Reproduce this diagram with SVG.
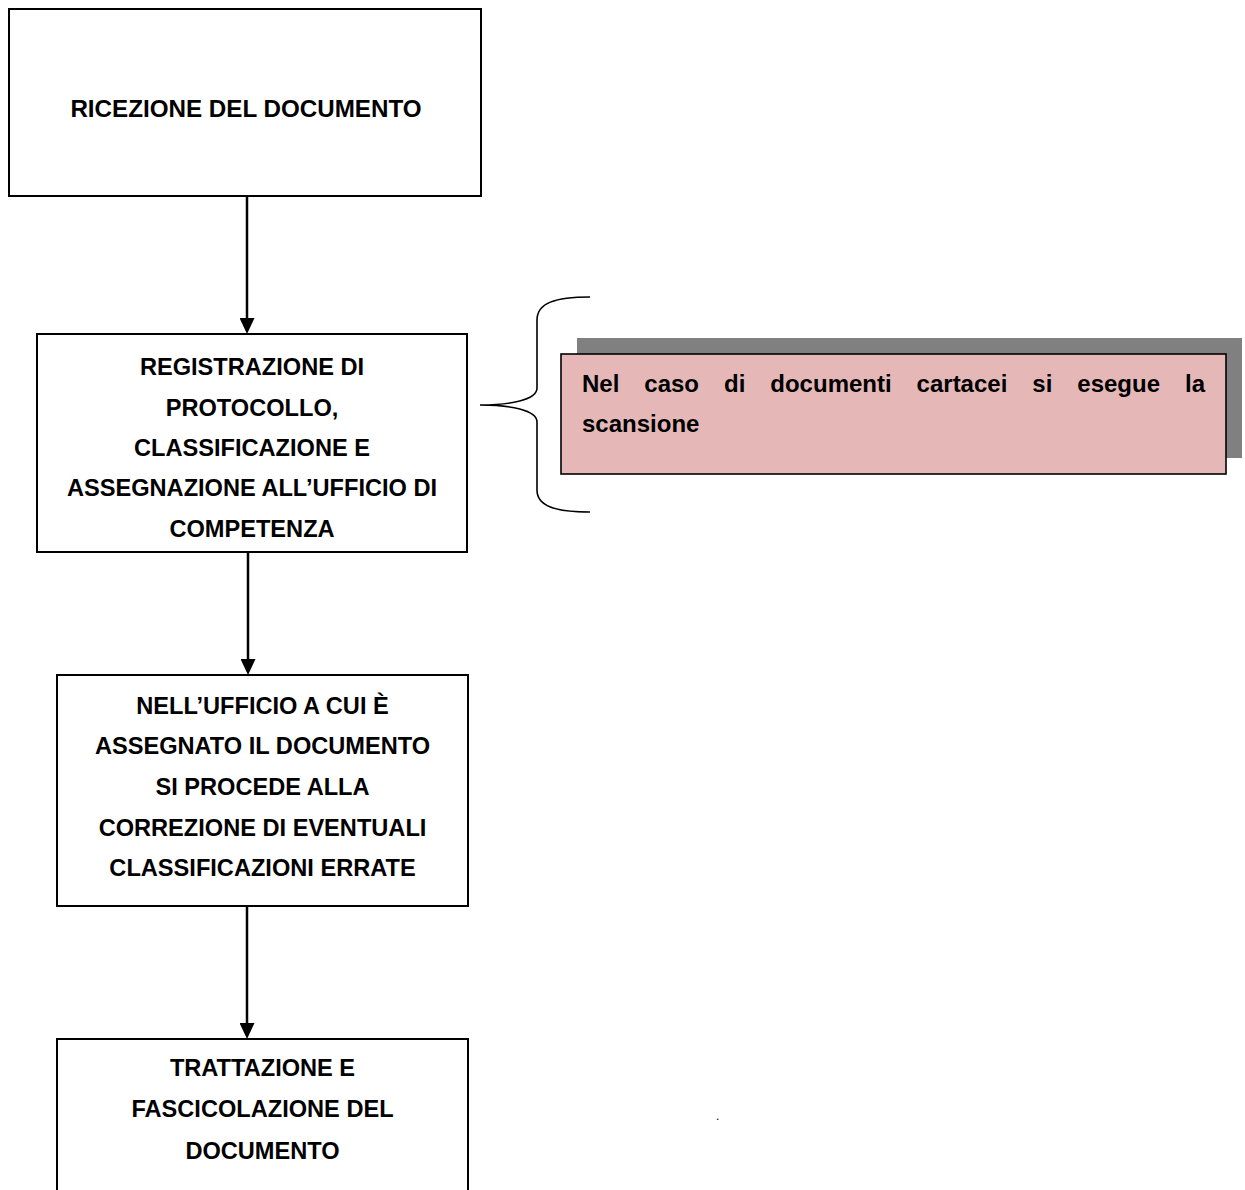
<svg xmlns="http://www.w3.org/2000/svg" width="1245" height="1190" viewBox="0 0 1245 1190">
<style>
.box{fill:#fff;stroke:#000;stroke-width:2}
.t{font-family:"Liberation Sans",Arial,sans-serif;font-weight:bold;font-size:23.6px;fill:#000;text-anchor:middle}
.p{font-family:"Liberation Sans",Arial,sans-serif;font-weight:bold;font-size:24px;fill:#000}
.conn{stroke:#000;stroke-width:2.5;fill:none}
</style>
<defs>
<marker id="ah" viewBox="0 0 16 15" markerWidth="16" markerHeight="15" refX="0" refY="7.5" orient="auto" markerUnits="userSpaceOnUse">
<path d="M0,0 L16,7.5 L0,15 z" fill="#000"/>
</marker>
</defs>
<rect width="1245" height="1190" fill="#fff"/>
<g id="connectors">
<line class="conn" x1="247" y1="196" x2="247" y2="318" marker-end="url(#ah)"/>
<line class="conn" x1="248" y1="553" x2="248" y2="659" marker-end="url(#ah)"/>
<line class="conn" x1="247" y1="906" x2="247" y2="1023" marker-end="url(#ah)"/>
</g>
<g id="n1">
<rect class="box" x="9" y="9" width="472" height="187"/>
<text class="t" x="246" y="116.5" style="font-size:24.2px">RICEZIONE DEL DOCUMENTO</text>
</g>
<g id="n2">
<rect class="box" x="37" y="334" width="430" height="218"/>
<text class="t" x="252" y="375">REGISTRAZIONE DI</text>
<text class="t" x="252" y="415.5">PROTOCOLLO,</text>
<text class="t" x="252" y="455.5">CLASSIFICAZIONE E</text>
<text class="t" x="252" y="496">ASSEGNAZIONE ALL’UFFICIO DI</text>
<text class="t" x="252" y="536.5">COMPETENZA</text>
</g>
<g id="brace">
<path d="M590,297 C555,297 537,303 537,320 L537,388 C537,400 510,405 480,405 C510,405 537,410 537,422 L537,490 C537,506 555,512 590,512" fill="none" stroke="#000" stroke-width="1.6"/>
</g>
<g id="note">
<rect x="577" y="338" width="665" height="120" fill="#808080"/>
<rect x="561" y="354" width="665" height="120" fill="#E5B8B7" stroke="#000" stroke-width="1.6"/>
<text class="p" y="392"><tspan x="582">Nel</tspan><tspan x="644.3">caso</tspan><tspan x="724">di</tspan><tspan x="770.3">documenti</tspan><tspan x="916.6">cartacei</tspan><tspan x="1032.3">si</tspan><tspan x="1077.3">esegue</tspan><tspan x="1185">la</tspan></text>
<text class="p" x="582" y="432">scansione</text>
</g>
<g id="n3">
<rect class="box" x="57" y="675" width="411" height="231"/>
<text class="t" x="262.5" y="713.5">NELL’UFFICIO A CUI È</text>
<text class="t" x="262.5" y="754">ASSEGNATO IL DOCUMENTO</text>
<text class="t" x="262.5" y="795">SI PROCEDE ALLA</text>
<text class="t" x="262.5" y="835.5">CORREZIONE DI EVENTUALI</text>
<text class="t" x="262.5" y="876">CLASSIFICAZIONI ERRATE</text>
</g>
<g id="n4">
<rect class="box" x="57" y="1039" width="411" height="200"/>
<text class="t" x="262.5" y="1075.5">TRATTAZIONE E</text>
<text class="t" x="262.5" y="1117">FASCICOLAZIONE DEL</text>
<text class="t" x="262.5" y="1158.5">DOCUMENTO</text>
</g>
<text class="p" x="716" y="1120" style="font-size:12px;font-weight:normal">.</text>
</svg>
